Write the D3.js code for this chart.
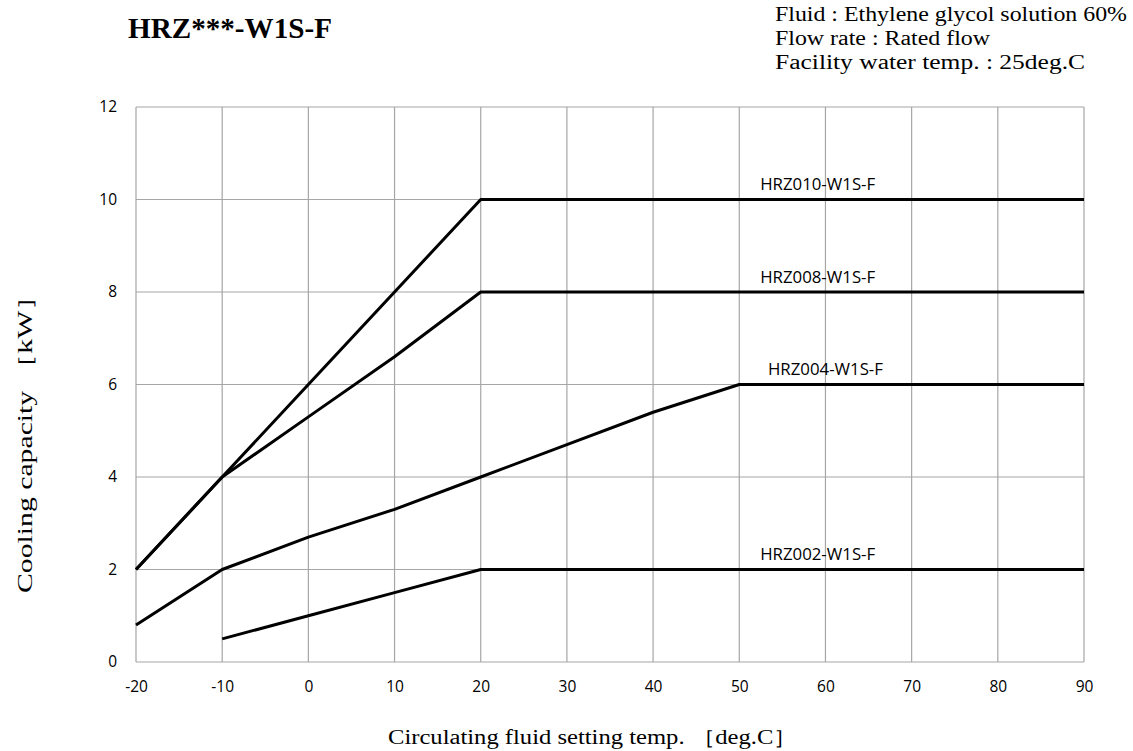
<!DOCTYPE html>
<html><head><meta charset="utf-8">
<script src="https://cdn.jsdelivr.net/npm/d3@7"></script>
<style>body{margin:0;background:#fff}svg{display:block}</style>
</head><body>
<svg id="c" width="1133" height="751"></svg>
<script>
const xTicks = [-20,-10,0,10,20,30,40,50,60,70,80,90];
const yTicks = [0,2,4,6,8,10,12];
const hrz010 = [[-20,2],[-10,4],[0,6],[10,8],[20,10],[90,10]];
const hrz008 = [[-20,2],[-10,4],[0,5.3],[10,6.6],[20,8],[90,8]];
const hrz004 = [[-20,0.8],[-10,2],[0,2.7],[10,3.3],[20,4],[30,4.7],[40,5.4],[50,6],[90,6]];
const hrz002 = [[-10,0.5],[0,1],[10,1.5],[20,2],[90,2]];
const seriesNames = ["HRZ010-W1S-F","HRZ008-W1S-F","HRZ004-W1S-F","HRZ002-W1S-F"];
const labelPos = [[59.1,10.2],[59.1,8.2],[60,6.2],[59.1,2.2]];

const svg = d3.select("#c");
const x = d3.scaleLinear().domain([-20,90]).range([136,1084]);
const y = d3.scaleLinear().domain([0,12]).range([662,107]);
const sans = "'Open Sans', 'Liberation Sans', sans-serif";
const serif = "'Liberation Serif','Times New Roman',serif";

// grid
svg.append("g").selectAll("line").data(xTicks).join("line")
  .attr("x1",d=>x(d)).attr("x2",d=>x(d)).attr("y1",y(0)).attr("y2",y(12))
  .attr("stroke","#a6a6a6").attr("stroke-width",1.2);
svg.append("g").selectAll("line").data(yTicks).join("line")
  .attr("x1",x(-20)).attr("x2",x(90)).attr("y1",d=>y(d)).attr("y2",d=>y(d))
  .attr("stroke","#a6a6a6").attr("stroke-width",1.2);

// axes
const fmt = d => String(d);
const xa = svg.append("g").attr("transform",`translate(0,${y(0)})`)
  .call(d3.axisBottom(x).tickValues(xTicks).tickSize(0).tickPadding(19).tickFormat(fmt));
const ya = svg.append("g").attr("transform",`translate(${x(-20)},0)`)
  .call(d3.axisLeft(y).tickValues(yTicks).tickSize(0).tickPadding(19).tickFormat(fmt));
[xa,ya].forEach(a=>{a.select(".domain").remove();
  a.selectAll("text").attr("font-family",sans).attr("font-size",15.5).attr("fill","#000");});

// lines
const line = d3.line().x(d=>x(d[0])).y(d=>y(d[1]));
[hrz010,hrz008,hrz004,hrz002].forEach(s=>{
  svg.append("path").attr("d",line(s)).attr("fill","none").attr("stroke","#000")
    .attr("stroke-width",3).attr("stroke-linejoin","round");
});
svg.append("g").selectAll("text").data(seriesNames).join("text")
  .attr("x",(d,i)=>x(labelPos[i][0])).attr("y",(d,i)=>y(labelPos[i][1]))
  .attr("text-anchor","middle").attr("font-family",sans)
  .attr("font-size",15.5).attr("textLength",115).attr("lengthAdjust","spacingAndGlyphs").text(d=>d);

// titles
svg.append("text").attr("x",128).attr("y",38).attr("font-family",serif).attr("font-weight","bold")
  .attr("font-size",29).attr("textLength",204).attr("lengthAdjust","spacingAndGlyphs").text("HRZ***-W1S-F");
const info = ["Fluid : Ethylene glycol solution 60%","Flow rate : Rated flow","Facility water temp. : 25deg.C"];
const infoLen = [352,215,310];
svg.append("g").selectAll("text").data(info).join("text")
  .attr("x",775).attr("y",(d,i)=>21+i*24).attr("font-family",serif).attr("font-size",20)
  .attr("textLength",(d,i)=>infoLen[i]).attr("lengthAdjust","spacingAndGlyphs").text(d=>d);
svg.append("text").attr("x",593).attr("y",744).attr("text-anchor","middle").attr("font-family",serif)
  .attr("font-size",20).attr("textLength",410).attr("lengthAdjust","spacingAndGlyphs")
  .text("Circulating fluid setting temp. ［deg.C］");
svg.append("text").attr("transform","translate(32,437) rotate(-90)").attr("text-anchor","middle")
  .attr("font-family",serif).attr("font-size",20).attr("textLength",312).attr("lengthAdjust","spacingAndGlyphs")
  .text("Cooling capacity ［kW］");
</script>
</body></html>
